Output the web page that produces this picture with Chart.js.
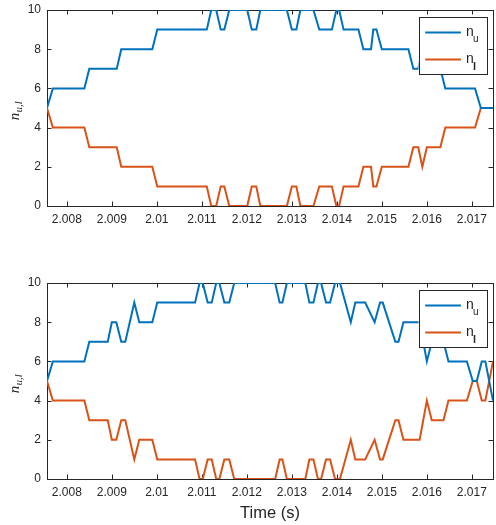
<!DOCTYPE html>
<html>
<head>
<meta charset="utf-8">
<script src="https://cdn.jsdelivr.net/npm/chart.js@4.4.1/dist/chart.umd.min.js"></script>
<style>
  body { margin: 0; background: #fff; width: 496px; height: 525px; overflow: hidden; position: relative; }
  .panel { position: absolute; left: 0; }
</style>
</head>
<body>
<div class="panel" id="topPanel" style="top:0px"><canvas id="topChart" width="496" height="270"></canvas></div>
<div class="panel" id="botPanel" style="top:262px"><canvas id="botChart" width="496" height="275"></canvas></div>
<script>
// time breakpoints (s) and counts
const topTime = [2.00756, 2.00769, 2.00839, 2.00850, 2.00911, 2.00921, 2.00990, 2.01001,
                 2.01111, 2.01121, 2.01132, 2.01142, 2.01150, 2.01161, 2.01201, 2.01211,
                 2.01221, 2.01230, 2.01289, 2.01300, 2.01310, 2.01319, 2.01348, 2.01361,
                 2.01389, 2.01399, 2.01405, 2.01415, 2.01448, 2.01459, 2.01476, 2.01481,
                 2.01488, 2.01500, 2.01559, 2.01570, 2.01581, 2.01590, 2.01600, 2.01630,
                 2.01641, 2.01707, 2.01720, 2.01747];
const topNu = [5, 6, 6, 7, 7, 8, 8, 9,
               9, 10, 10, 9, 9, 10, 10, 9,
               9, 10, 10, 9, 9, 10, 10, 9,
               9, 10, 10, 9, 9, 8, 8, 9,
               9, 8, 8, 7, 7, 8, 7, 7,
               6, 6, 5, 5];
const topNl = [5, 4, 4, 3, 3, 2, 2, 1,
               1, 0, 0, 1, 1, 0, 0, 1,
               1, 0, 0, 1, 1, 0, 0, 1,
               1, 0, 0, 1, 1, 2, 2, 1,
               1, 2, 2, 3, 3, 2, 3, 3,
               4, 4, 5, 5];

const botTime = [2.00756, 2.00769, 2.00839, 2.00850, 2.00891, 2.00900, 2.00910, 2.00921,
                 2.00930, 2.00950, 2.00961, 2.00990, 2.01001, 2.01085, 2.01095, 2.01102,
                 2.01113, 2.01122, 2.01132, 2.01139, 2.01150, 2.01161, 2.01172, 2.01263,
                 2.01273, 2.01279, 2.01289, 2.01330, 2.01339, 2.01348, 2.01358, 2.01365,
                 2.01376, 2.01385, 2.01396, 2.01407, 2.01431, 2.01441, 2.01463, 2.01484,
                 2.01496, 2.01502, 2.01530, 2.01537, 2.01548, 2.01584, 2.01600, 2.01611,
                 2.01637, 2.01648, 2.01689, 2.01702, 2.01711, 2.01722, 2.01730, 2.01747];
const botNu = [5, 6, 6, 7, 7, 8, 8, 7,
               7, 9, 8, 8, 9, 9, 10, 10,
               9, 9, 10, 10, 9, 9, 10, 10,
               9, 9, 10, 10, 9, 9, 10, 10,
               9, 9, 10, 10, 8, 9, 9, 8,
               9, 9, 7, 7, 8, 8, 6, 7,
               7, 6, 6, 5, 5, 6, 6, 4];
const botNl = [5, 4, 4, 3, 3, 2, 2, 3,
               3, 1, 2, 2, 1, 1, 0, 0,
               1, 1, 0, 0, 1, 1, 0, 0,
               1, 1, 0, 0, 1, 1, 0, 0,
               1, 1, 0, 0, 2, 1, 1, 2,
               1, 1, 3, 3, 2, 2, 4, 3,
               3, 4, 4, 5, 5, 4, 4, 6];

const xTickVals = [2.008, 2.009, 2.010, 2.011, 2.012, 2.013, 2.014, 2.015, 2.016, 2.017];
const xTickLabels = ['2.008', '2.009', '2.01', '2.011', '2.012', '2.013', '2.014', '2.015', '2.016', '2.017'];
const yTickVals = [0, 2, 4, 6, 8, 10];
const yTickLabels = ['0', '2', '4', '6', '8', '10'];
const seriesNames = ['u', 'l'];

const xMin = 2.00756, xMax = 2.01747;
const blue = '#0072BD', orange = '#D95319', ink = '#262626';

function pts(t, v) {
    let out = [];
    for (let i = 0; i < t.length; i++) out.push({x: t[i], y: v[i]});
    return out;
}

// frame with inward ticks, MATLAB style
const framePlugin = {
    id: 'frame',
    beforeDatasetsDraw(chart) {
        const ctx = chart.ctx, a = chart.chartArea;
        const xs = chart.scales.x, ys = chart.scales.y;
        ctx.save();
        ctx.strokeStyle = ink;
        ctx.lineWidth = 1;
        ctx.beginPath();
        for (const v of xTickVals) {
            let px = Math.round(xs.getPixelForValue(v)) + 0.5;
            ctx.moveTo(px, a.bottom); ctx.lineTo(px, a.bottom - 4.5);
            ctx.moveTo(px, a.top); ctx.lineTo(px, a.top + 4.5);
        }
        for (const v of yTickVals) {
            let py = Math.round(ys.getPixelForValue(v)) + 0.5;
            ctx.moveTo(a.left, py); ctx.lineTo(a.left + 4.5, py);
            ctx.moveTo(a.right, py); ctx.lineTo(a.right - 4.5, py);
        }
        ctx.stroke();
        ctx.strokeRect(Math.round(a.left) + 0.5, Math.round(a.top) + 0.5,
                       Math.round(a.right - a.left), Math.round(a.bottom - a.top));
        ctx.restore();
    },
    afterDraw(chart, args, opts) {
        const ctx = chart.ctx, a = chart.chartArea;
        ctx.save();
        ctx.fillStyle = ink;

        // y title n_{u,l}
        ctx.translate(18.5, (a.top + a.bottom) / 2 + 3);
        ctx.rotate(-Math.PI / 2);
        ctx.font = 'italic 15px "Liberation Serif"';
        let w1 = ctx.measureText('n').width;
        ctx.font = 'italic 10.5px "Liberation Serif"';
        let w2 = ctx.measureText('u,l').width;
        let x0 = -(w1 + w2) / 2;
        ctx.font = 'italic 15px "Liberation Serif"';
        ctx.fillText('n', x0, 0);
        ctx.font = 'italic 10.5px "Liberation Serif"';
        ctx.fillText('u,l', x0 + w1 + 0.5, 3);
        ctx.setTransform(1, 0, 0, 1, 0, 0);

        // legend box
        let bx = a.right - 74.5, by = a.top + 7, bw = 68, bh = 57;
        ctx.fillStyle = '#fff';
        ctx.fillRect(bx, by, bw, bh);
        ctx.strokeStyle = ink;
        ctx.lineWidth = 1;
        ctx.strokeRect(Math.round(bx) + 0.5, Math.round(by) + 0.5, bw, bh);
        const cols = [blue, orange];
        for (let i = 0; i < 2; i++) {
            let ly = by + 15.6 + i * 27;
            ctx.strokeStyle = cols[i];
            ctx.lineWidth = 2;
            ctx.beginPath();
            ctx.moveTo(bx + 6.7, ly); ctx.lineTo(bx + 42.4, ly);
            ctx.stroke();
            ctx.fillStyle = ink;
            ctx.font = '14px "Liberation Sans"';
            ctx.fillText('n', bx + 47.5, by + 18.5 + i * 27.5);
            ctx.font = (i == 1 ? 'bold 11px ' : '10px ') + '"Liberation Sans"';
            ctx.fillText(seriesNames[i], bx + 54.5, by + 25 + i * 28.3);
        }

        if (opts.xTitle) {
            ctx.fillStyle = ink;
            ctx.font = '16.5px "Liberation Sans"';
            ctx.textAlign = 'center';
            ctx.fillText('Time (s)', (a.left + a.right) / 2, a.bottom + 39);
        }
        ctx.restore();
    }
};

function makeChart(id, t, nu, nl, xTitle) {
    let canvas = document.getElementById(id).getContext('2d');
    return new Chart(canvas, {
        type: 'line',
        data: {
            datasets: [
                { data: pts(t, nu), borderColor: blue, borderWidth: 2, pointRadius: 0, tension: 0, fill: false },
                { data: pts(t, nl), borderColor: orange, borderWidth: 2, pointRadius: 0, tension: 0, fill: false }
            ]
        },
        options: {
            responsive: false,
            animation: false,
            devicePixelRatio: 1,
            layout: { padding: { left: 0, right: 3, top: 20, bottom: 20 } },
            plugins: { legend: { display: false }, tooltip: { enabled: false }, frame: { xTitle: xTitle } },
            scales: {
                x: {
                    type: 'linear', min: xMin, max: xMax,
                    grid: { display: false, drawTicks: false }, border: { display: false },
                    afterBuildTicks: axis => { axis.ticks = xTickVals.map(v => ({ value: v })); },
                    afterFit: s => { s.height = 30; },
                    ticks: {
                        autoSkip: false, maxRotation: 0, padding: 6,
                        color: ink, font: { family: 'Liberation Sans', size: 12 },
                        callback: (v, i) => xTickLabels[i]
                    }
                },
                y: {
                    min: 0, max: 10,
                    grid: { display: false, drawTicks: false }, border: { display: false },
                    afterBuildTicks: axis => { axis.ticks = yTickVals.map(v => ({ value: v })); },
                    afterFit: s => { s.width = 47; },
                    ticks: {
                        padding: 6, color: ink, font: { family: 'Liberation Sans', size: 12 },
                        callback: (v, i) => yTickLabels[i]
                    }
                }
            }
        },
        plugins: [framePlugin]
    });
}

// size the plot box by padding, then slide the canvas so the box lands where the figure has it
function placeArea(chart, panelId, pageTop, pageBottom) {
    for (let k = 0; k < 4; k++) {
        let a = chart.chartArea;
        let p = chart.options.layout.padding;
        p.bottom += (a.bottom - a.top) - (pageBottom - pageTop);
        p.left += 47 - a.left;
        p.right += a.right - 493;
        chart.update();
    }
    document.getElementById(panelId).style.top = (pageTop - chart.chartArea.top) + 'px';
}

let topChart = makeChart('topChart', topTime, topNu, topNl, false);
let botChart = makeChart('botChart', botTime, botNu, botNl, true);
placeArea(topChart, 'topPanel', 10, 206);
placeArea(botChart, 'botPanel', 283.3, 479.3);
</script>
</body>
</html>
